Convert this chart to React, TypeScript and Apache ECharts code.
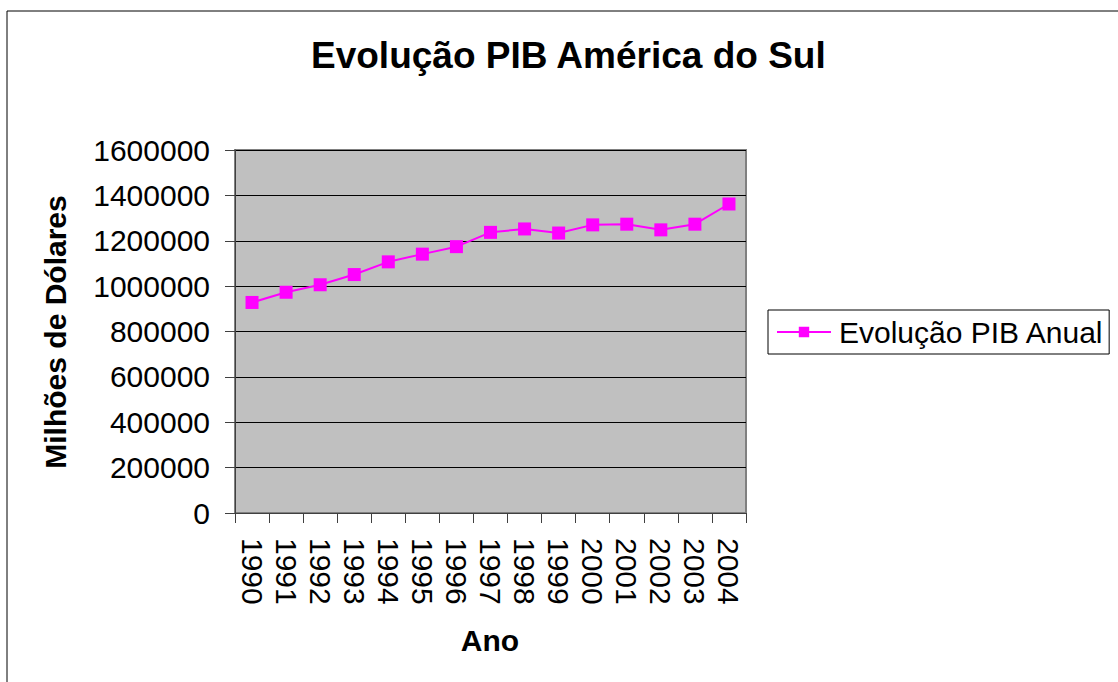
import React, { useEffect, useRef } from "react";
import * as echarts from "echarts";

const years = ["1990","1991","1992","1993","1994","1995","1996","1997","1998","1999","2000","2001","2002","2003","2004"];
const pib = [928000, 973000, 1006000, 1051000, 1107000, 1141000, 1174000, 1237000, 1252000, 1234000, 1270000, 1273000, 1248000, 1273000, 1362000];
const seriesName = "Evolução PIB Anual";
const titleText = "Evolução PIB América do Sul";
const yName = "Milhões de Dólares";
const xName = "Ano";

const FONT = "'Liberation Sans', Arial, sans-serif";

export default function App() {
  const ref = useRef<HTMLDivElement>(null);
  useEffect(() => {
    if (!ref.current) return;
    const chart = echarts.init(ref.current, null, { renderer: "svg" });
    chart.setOption({
      animation: false,
      backgroundColor: "#ffffff",
      textStyle: { fontFamily: FONT },
      title: {
        text: titleText,
        left: 306,
        top: 32,
        textStyle: { fontFamily: FONT, fontSize: 37, fontWeight: "bold", color: "#000" },
      },
      grid: {
        left: 235,
        top: 150,
        width: 511,
        height: 363,
        show: true,
        backgroundColor: "#C0C0C0",
        borderColor: "#808080",
        borderWidth: 2,
      },
      legend: {
        left: 768,
        top: 310,
        orient: "vertical",
        padding: [7, 5, 7, 8],
        borderColor: "#000",
        borderWidth: 1,
        backgroundColor: "#fff",
        itemWidth: 54,
        itemHeight: 13,
        itemGap: 0,
        textStyle: { fontFamily: FONT, fontSize: 30, color: "#000", lineHeight: 30, padding: [0, 0, 0, 3] },
        data: [seriesName],
      },
      xAxis: {
        type: "category",
        data: years,
        boundaryGap: true,
        axisLine: { show: true, lineStyle: { color: "#404040", width: 1 } },
        axisTick: { show: true, length: 10, inside: false, lineStyle: { color: "#404040" } },
        axisLabel: {
          rotate: -90,
          margin: 25,
          fontSize: 30,
          fontFamily: FONT,
          color: "#000",
          interval: 0,
        },
        splitLine: { show: false },
      },
      yAxis: {
        type: "value",
        min: 0,
        max: 1600000,
        interval: 200000,
        axisLine: { show: true, lineStyle: { color: "#404040", width: 1 } },
        axisTick: { show: true, length: 10, lineStyle: { color: "#404040" } },
        axisLabel: {
          margin: 25,
          fontSize: 30,
          fontFamily: FONT,
          color: "#000",
          formatter: (v: number) => String(v),
        },
        splitLine: { show: true, lineStyle: { color: "#000", width: 1 } },
      },
      series: [
        {
          name: seriesName,
          type: "line",
          data: pib,
          symbol: "rect",
          symbolSize: 13,
          lineStyle: { color: "#FF00FF", width: 2 },
          itemStyle: { color: "#FF00FF" },
        },
      ],
      graphic: [
        {
          type: "rect",
          shape: { x: 7, y: 11, width: 1120, height: 680 },
          style: { fill: "none", stroke: "#000", lineWidth: 1 },
          silent: true,
          z: 100,
        },
        {
          type: "text",
          x: 55,
          y: 332,
          rotation: Math.PI / 2,
          style: {
            text: yName,
            fontFamily: FONT,
            fontSize: 30,
            fontWeight: "bold",
            fill: "#000",
            align: "center",
            verticalAlign: "middle",
          },
        },
        {
          type: "text",
          x: 490,
          y: 640,
          style: {
            text: xName,
            fontFamily: FONT,
            fontSize: 30,
            fontWeight: "bold",
            fill: "#000",
            align: "center",
            verticalAlign: "middle",
          },
        },
      ],
    });
    return () => chart.dispose();
  }, []);
  return (
    <div
      ref={ref}
      style={{ position: "fixed", left: 0, top: 0, width: 1118, height: 682 }}
    />
  );
}
